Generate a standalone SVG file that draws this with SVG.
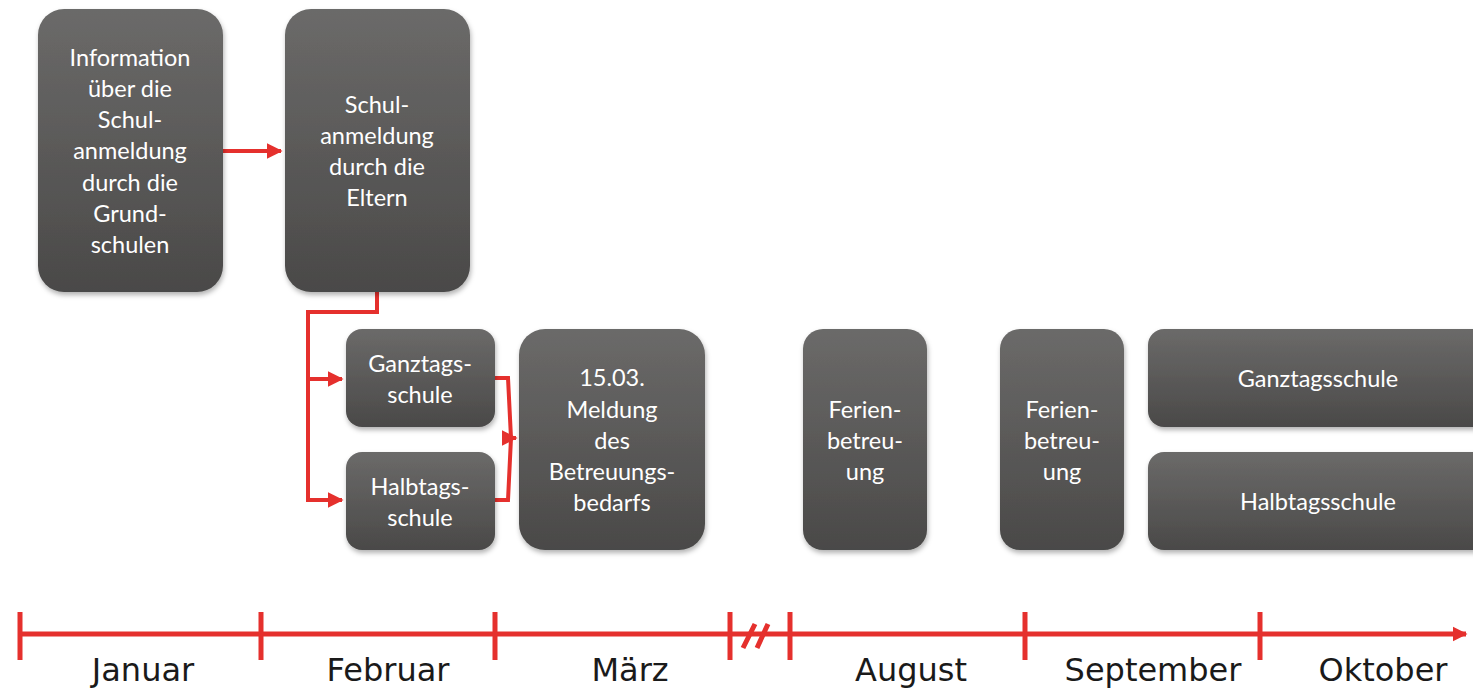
<svg xmlns="http://www.w3.org/2000/svg" width="1473" height="690" viewBox="0 0 1473 690">
<defs>
<linearGradient id="g" x1="0" y1="0" x2="0" y2="1">
<stop offset="0" stop-color="#6b6a69"/>
<stop offset="1" stop-color="#4a4948"/>
</linearGradient>
<filter id="sh" x="-10%" y="-10%" width="120%" height="120%">
<feDropShadow dx="1" dy="3" stdDeviation="2.5" flood-color="#000" flood-opacity="0.3"/>
</filter>
<marker id="ah" viewBox="0 0 10 10" refX="9" refY="5" markerWidth="4" markerHeight="4" orient="auto" markerUnits="strokeWidth">
<path d="M0,0 L10,5 L0,10 z" fill="#e5302d"/>
</marker>
<marker id="ah2" viewBox="0 0 10 10" refX="9" refY="5" markerWidth="3" markerHeight="3.2" orient="auto" markerUnits="strokeWidth">
<path d="M0,0 L10,5 L0,10 z" fill="#e5302d"/>
</marker>
</defs>
<style>
.box{fill:url(#g);filter:url(#sh);}
.t{font-family:Lato,"Open Sans","Liberation Sans",sans-serif;font-size:23.5px;fill:#ffffff;text-anchor:middle;}
.m{font-family:"DejaVu Sans",Verdana,sans-serif;font-size:32px;fill:#1a1a1a;text-anchor:middle;}
.c{fill:none;stroke:#e5302d;stroke-width:4;stroke-linejoin:miter;}
.ax{fill:none;stroke:#e5302d;stroke-width:5;}
</style>
<rect width="1473" height="690" fill="#ffffff"/>

<g id="connectors">
<path class="c" d="M223,151 H281" marker-end="url(#ah)"/>
<path class="c" d="M377,292 V312 H308 V500 H342" marker-end="url(#ah)"/>
<path class="c" d="M308,379 H342" marker-end="url(#ah)"/>
<path class="c" d="M495,378 H508 L511,438 H516" marker-end="url(#ah)"/>
<path class="c" d="M495,500 H508 L511,438"/>
</g>

<g id="n1"><rect class="box" x="38" y="9" width="185" height="283" rx="26"/>
<text class="t" x="130"><tspan x="130" y="66">Information</tspan><tspan x="130" y="97">über die</tspan><tspan x="130" y="128">Schul-</tspan><tspan x="130" y="159">anmeldung</tspan><tspan x="130" y="191">durch die</tspan><tspan x="130" y="222">Grund-</tspan><tspan x="130" y="253">schulen</tspan></text></g>

<g id="n2"><rect class="box" x="285" y="9" width="185" height="283" rx="26"/>
<text class="t"><tspan x="377" y="113">Schul-</tspan><tspan x="377" y="144">anmeldung</tspan><tspan x="377" y="175">durch die</tspan><tspan x="377" y="206">Eltern</tspan></text></g>

<g id="n3"><rect class="box" x="346" y="329" width="149" height="98" rx="16"/>
<text class="t"><tspan x="420" y="372">Ganztags-</tspan><tspan x="420" y="403">schule</tspan></text></g>

<g id="n4"><rect class="box" x="346" y="452" width="149" height="98" rx="16"/>
<text class="t"><tspan x="420" y="495">Halbtags-</tspan><tspan x="420" y="526">schule</tspan></text></g>

<g id="n5"><rect class="box" x="519" y="329" width="186" height="221" rx="26"/>
<text class="t"><tspan x="612" y="386">15.03.</tspan><tspan x="612" y="418">Meldung</tspan><tspan x="612" y="449">des</tspan><tspan x="612" y="480">Betreuungs-</tspan><tspan x="612" y="511">bedarfs</tspan></text></g>

<g id="n6"><rect class="box" x="803" y="329" width="124" height="221" rx="20"/>
<text class="t"><tspan x="865" y="418">Ferien-</tspan><tspan x="865" y="449">betreu-</tspan><tspan x="865" y="480">ung</tspan></text></g>

<g id="n7"><rect class="box" x="1000" y="329" width="124" height="221" rx="20"/>
<text class="t"><tspan x="1062" y="418">Ferien-</tspan><tspan x="1062" y="449">betreu-</tspan><tspan x="1062" y="480">ung</tspan></text></g>

<g id="n8"><rect class="box" x="1148" y="329" width="345" height="98" rx="16"/>
<text class="t" x="1318" y="387">Ganztagsschule</text></g>

<g id="n9"><rect class="box" x="1148" y="452" width="345" height="98" rx="16"/>
<text class="t" x="1318" y="510">Halbtagsschule</text></g>

<g id="axis">
<path class="ax" d="M20,634 H1466" marker-end="url(#ah2)"/>
<path class="ax" d="M20,612 V660 M261,612 V660 M495,612 V660 M730,612 V660 M790,612 V660 M1025,612 V660 M1260,612 V660"/>
<path class="ax" d="M743,648 L755,624 M757,648 L768,624"/>
<text class="m" x="143" y="681">Januar</text>
<text class="m" x="388" y="681">Februar</text>
<text class="m" x="630" y="681">März</text>
<text class="m" x="911" y="681">August</text>
<text class="m" x="1153" y="681">September</text>
<text class="m" x="1383" y="681">Oktober</text>
</g>
</svg>
